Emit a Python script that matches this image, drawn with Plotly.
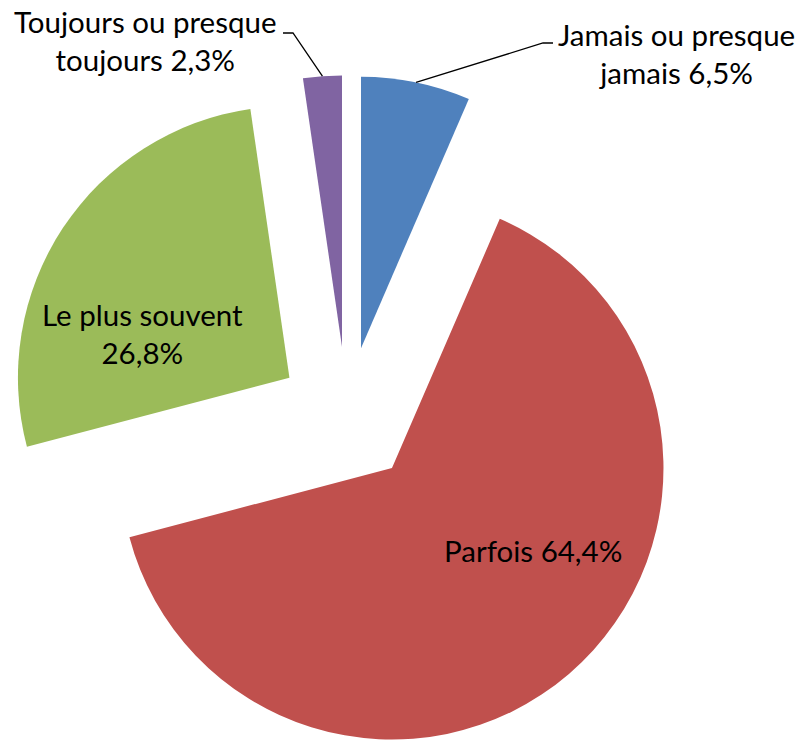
import numpy as np
import plotly.graph_objects as go

# ---- data ----
categories = ["Jamais ou presque jamais", "Parfois", "Le plus souvent", "Toujours ou presque toujours"]
label_lines = [["Jamais ou presque", "jamais"], ["Parfois"], ["Le plus souvent", ""], ["Toujours ou presque", "toujours"]]
values = [6.5, 64.4, 26.8, 2.3]
colors = ["#4F81BD", "#C0504D", "#9BBB59", "#8064A2"]

# ---- layout geometry (pixels, in screenshot frame) ----
W, H = 803, 740
OFF = 8                   # page body margin offset
CX, CY = 347.0, 415.7     # centre of the un-exploded pie
R = 271.5                 # radius
D = 69.0                  # explosion distance

FONT = "Lato"
FS = 29.5

def pct(v):
    return f"{v:.1f}".replace(".", ",") + "%"

def px(x, y):
    return (x - OFF) / W, 1 - (y - OFF) / H

total = float(sum(values))
cum = np.cumsum([0] + values[:-1])
mids = [(c + v / 2) / total * 360.0 for c, v in zip(cum, values)]

fig = go.Figure()
slice_centres = []
for i, v in enumerate(values):
    a = np.radians(mids[i])
    sx = CX + D * np.sin(a)
    sy = CY - D * np.cos(a)
    slice_centres.append((sx, sy))
    x0, y1 = px(sx - R, sy - R)
    x1, y0 = px(sx + R, sy + R)
    x0, x1 = max(0, x0), min(1, x1)
    y0, y1 = max(0, y0), min(1, y1)
    fig.add_trace(go.Pie(
        labels=categories,
        values=values,
        sort=False,
        direction="clockwise",
        rotation=0,
        marker=dict(colors=[colors[i] if j == i else "rgba(0,0,0,0)" for j in range(len(values))],
                    line=dict(width=0)),
        textinfo="none",
        hoverinfo="skip",
        showlegend=False,
        domain=dict(x=[x0, x1], y=[y0, y1]),
    ))

annotations = []
shapes = []

def label_text(i):
    lines = label_lines[i]
    if len(lines) == 1:
        return lines[0] + " " + pct(values[i])
    if lines[1]:
        return lines[0] + "<br>" + lines[1] + " " + pct(values[i])
    return lines[0] + "<br>" + pct(values[i])

# label positions (pixels, centre of text block)
label_pos = {0: (676, 53), 1: (533, 550), 2: (142, 333), 3: (145, 41)}
for i, (lx, ly) in label_pos.items():
    x, y = px(lx, ly)
    annotations.append(dict(x=x, y=y, xref="paper", yref="paper", text=label_text(i),
                            showarrow=False, xanchor="center", yanchor="middle", align="center",
                            font=dict(family=FONT, size=FS, color="black")))

# leader lines from the arc midpoint of the small slices
elbows = {0: ((543, 43), (553, 43)), 3: ((293, 33), (283, 33))}
for i, (e1, e2) in elbows.items():
    a = np.radians(mids[i])
    sx, sy = slice_centres[i]
    ax, ay = sx + R * np.sin(a), sy - R * np.cos(a)
    p0 = px(ax, ay); p1 = px(*e1); p2 = px(*e2)
    shapes.append(dict(type="path", xref="paper", yref="paper",
                       path=f"M {p0[0]} {p0[1]} L {p1[0]} {p1[1]} L {p2[0]} {p2[1]}",
                       line=dict(color="black", width=1.3)))

fig.update_layout(
    width=W, height=H,
    margin=dict(l=0, r=0, t=0, b=0),
    paper_bgcolor="white",
    plot_bgcolor="white",
    annotations=annotations,
    shapes=shapes,
)

fig.write_html("out.html")
